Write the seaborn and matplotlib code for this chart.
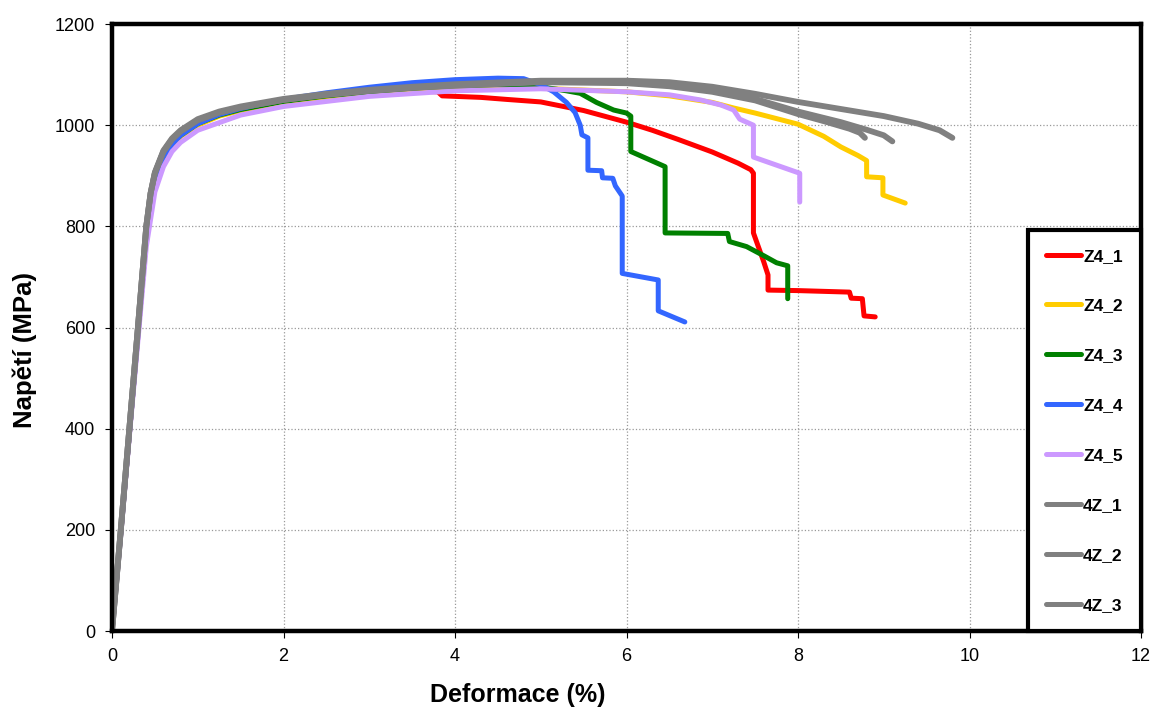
import pandas as pd
import numpy as np
import matplotlib
matplotlib.use("Agg")
import matplotlib.pyplot as plt
import seaborn as sns

# data (strain %, stress MPa)
z4_1_x = [0, 0.1, 0.2, 0.3, 0.4, 0.45, 0.5, 0.6, 0.7, 0.8, 1.0, 1.25, 1.5, 2.0, 2.5, 3.0, 3.5, 3.8, 3.85,
          4.0, 4.3, 4.6, 5.0, 5.5, 6.0, 6.3, 6.6, 7.0, 7.3, 7.45, 7.48, 7.48, 7.6, 7.65, 7.65, 8.0, 8.4,
          8.6, 8.62, 8.75, 8.77, 8.9]
z4_1_y = [0, 190, 385, 580, 780, 850, 893, 938, 963, 980, 1003, 1020, 1031, 1047, 1057, 1064, 1068, 1066, 1058,
          1057, 1055, 1051, 1046, 1029, 1006, 990, 972, 947, 925, 912, 905, 787, 730, 704, 674, 673, 671,
          670, 658, 657, 623, 621]

z4_2_x = [0, 0.1, 0.2, 0.3, 0.4, 0.45, 0.5, 0.6, 0.7, 0.8, 1.0, 1.25, 1.5, 2.0, 2.5, 3.0, 3.5, 4.0, 5.0,
          6.0, 6.5, 7.0, 7.25, 7.5, 8.0, 8.3, 8.5, 8.7, 8.8, 8.8, 8.99, 8.99, 9.25]
z4_2_y = [0, 195, 390, 585, 780, 848, 890, 935, 960, 978, 1000, 1018, 1029, 1045, 1055, 1063, 1069, 1072, 1073,
          1066, 1058, 1045, 1034, 1024, 1002, 978, 957, 940, 930, 898, 896, 862, 846]

z4_3_x = [0, 0.1, 0.2, 0.3, 0.4, 0.45, 0.5, 0.6, 0.7, 0.8, 1.0, 1.25, 1.5, 2.0, 2.5, 3.0, 3.5, 4.0, 4.5,
          5.0, 5.3, 5.46, 5.65, 5.85, 6.0, 6.05, 6.05, 6.45, 6.45, 7.18, 7.2, 7.4, 7.6, 7.75, 7.88, 7.88]
z4_3_y = [0, 190, 385, 580, 780, 850, 893, 938, 963, 980, 1003, 1020, 1031, 1047, 1058, 1066, 1073, 1078, 1080,
          1076, 1068, 1063, 1045, 1030, 1024, 1018, 948, 918, 787, 786, 770, 760, 742, 728, 722, 657]

z4_4_x = [0, 0.1, 0.2, 0.3, 0.4, 0.45, 0.5, 0.6, 0.7, 0.8, 1.0, 1.25, 1.5, 2.0, 2.5, 3.0, 3.5, 4.0, 4.5,
          4.8, 5.0, 5.15, 5.3, 5.4, 5.46, 5.48, 5.55, 5.55, 5.71, 5.72, 5.84, 5.87, 5.95, 5.95, 6.37,
          6.37, 6.68]
z4_4_y = [0, 190, 385, 580, 780, 850, 893, 938, 962, 980, 1003, 1021, 1033, 1051, 1064, 1075, 1084, 1090, 1093,
          1092, 1080, 1066, 1045, 1025, 1000, 981, 975, 911, 910, 896, 895, 880, 860, 707, 694,
          633, 611]

z4_5_x = [0, 0.1, 0.2, 0.3, 0.4, 0.5, 0.6, 0.7, 0.8, 1.0, 1.5, 2.0, 3.0, 4.0, 5.0, 6.0, 6.5, 6.86, 7.1,
          7.25, 7.32, 7.48, 7.48, 8.02, 8.02]
z4_5_y = [0, 185, 380, 570, 760, 868, 918, 948, 966, 990, 1020, 1037, 1057, 1068, 1072, 1066, 1060, 1050, 1040,
          1030, 1012, 1000, 937, 905, 848]

z4z_1_x = [0, 0.1, 0.2, 0.3, 0.4, 0.45, 0.5, 0.6, 0.7, 0.8, 1.0, 1.25, 1.5, 2.0, 2.5, 3.0, 3.5, 4.0, 5.0,
           6.0, 6.5, 7.0, 7.5, 8.0, 8.3, 8.6, 8.72, 8.78]
z4z_1_y = [0, 195, 395, 595, 800, 865, 905, 948, 972, 988, 1010, 1025, 1035, 1050, 1060, 1068, 1074, 1078, 1085,
           1083, 1077, 1066, 1049, 1022, 1008, 993, 985, 975]

z4z_2_x = [0, 0.1, 0.2, 0.3, 0.4, 0.45, 0.5, 0.6, 0.7, 0.8, 1.0, 1.25, 1.5, 2.0, 2.5, 3.0, 3.5, 4.0, 5.0,
           6.0, 6.5, 7.0, 7.5, 8.0, 8.5, 8.8, 9.0, 9.1]
z4z_2_y = [0, 195, 395, 595, 800, 865, 905, 948, 972, 988, 1010, 1025, 1035, 1050, 1060, 1068, 1074, 1079, 1086,
           1085, 1079, 1068, 1052, 1027, 1006, 991, 980, 968]

z4z_3_x = [0, 0.1, 0.2, 0.3, 0.4, 0.45, 0.5, 0.6, 0.7, 0.8, 1.0, 1.25, 1.5, 2.0, 2.5, 3.0, 3.5, 4.0, 5.0,
           6.0, 6.5, 7.0, 7.5, 8.0, 8.5, 9.0, 9.4, 9.65, 9.8]
z4z_3_y = [0, 195, 395, 595, 800, 866, 907, 950, 974, 990, 1012, 1027, 1037, 1052, 1062, 1070, 1076, 1081, 1088,
           1088, 1085, 1076, 1062, 1046, 1032, 1018, 1003, 990, 975]

labels = ["Z4_1", "Z4_2", "Z4_3", "Z4_4", "Z4_5", "4Z_1", "4Z_2", "4Z_3"]
xs = [z4_1_x, z4_2_x, z4_3_x, z4_4_x, z4_5_x, z4z_1_x, z4z_2_x, z4z_3_x]
ys = [z4_1_y, z4_2_y, z4_3_y, z4_4_y, z4_5_y, z4z_1_y, z4z_2_y, z4z_3_y]
colors = ["#FF0000", "#FFCC00", "#008000", "#3366FF", "#CC99FF", "#808080", "#808080", "#808080"]

# long table for seaborn
frames = []
for lab, x, y in zip(labels, xs, ys):
    frames.append(pd.DataFrame({"x": x, "y": y, "vzorek": lab}))
df = pd.concat(frames, ignore_index=True)

sns.set_style("white")
plt.rcParams["font.family"] = ["Liberation Sans", "DejaVu Sans"]
plt.rcParams["text.color"] = "black"
plt.rcParams["axes.labelcolor"] = "black"

fig = plt.figure(figsize=(11.57, 7.11), dpi=100)
ax = fig.add_axes([0.0968, 0.1125, 0.8894, 0.8537])

sns.lineplot(data=df, x="x", y="y", hue="vzorek", hue_order=labels,
             palette=dict(zip(labels, colors)), sort=False, estimator=None,
             units="vzorek", linewidth=3.6, ax=ax, legend=True)
# sede cary o neco silnejsi
for line in ax.get_lines()[5:8]:
    line.set_linewidth(4.2)

ax.set_xlim(0, 12)
ax.set_ylim(0, 1200)
ax.set_xticks(np.arange(0, 13, 2))
ax.set_yticks(np.arange(0, 1201, 200))
ax.grid(True, color="#999999", linestyle=":", linewidth=0.9)
ax.set_axisbelow(True)

for s in ax.spines.values():
    s.set_visible(True)
    s.set_color("black")
    s.set_linewidth(3.2)

ax.tick_params(axis="both", direction="out", length=5, width=0.8, colors="black",
               labelsize=13, pad=7, left=True, bottom=True)
ax.set_xlabel("Deformace (%)", fontsize=18, fontweight="bold")
ax.set_ylabel("Napětí (MPa)", fontsize=18.5, fontweight="bold")
# popisky os nejsou v referenci na stredu
ax.xaxis.set_label_coords(0.394, -0.105)
ax.yaxis.set_label_coords(-0.085, 0.463)
ax.xaxis.label.set_verticalalignment("center")
ax.yaxis.label.set_verticalalignment("center")

leg = ax.legend(loc="lower right", bbox_to_anchor=(1.0, 0.0), borderaxespad=0,
                frameon=True, fancybox=False, edgecolor="black", framealpha=1,
                prop={"size": 12.5, "weight": "bold"}, labelspacing=2.0,
                handlelength=2.0, handletextpad=0.12, borderpad=1.05)
leg.get_frame().set_linewidth(3.0)
for h in leg.get_lines():
    h.set_linewidth(3.6)

fig.savefig("out.png", dpi=100)
